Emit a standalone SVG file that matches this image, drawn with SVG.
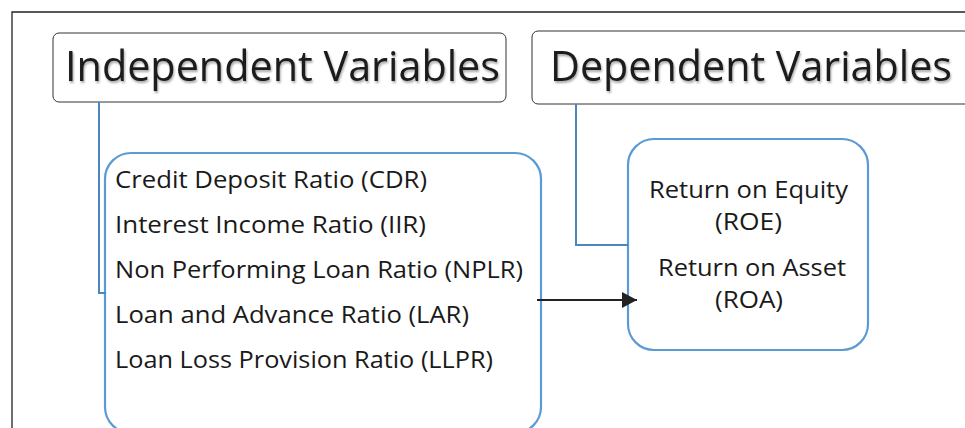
<svg xmlns="http://www.w3.org/2000/svg" width="965" height="428" viewBox="0 0 965 428">
<defs>
<filter id="sh" x="-5%" y="-20%" width="110%" height="150%">
<feDropShadow dx="1" dy="2" stdDeviation="1.2" flood-color="#000" flood-opacity="0.35"/>
</filter>
<marker id="arr" markerWidth="16" markerHeight="16" refX="15" refY="8" orient="auto" markerUnits="userSpaceOnUse">
<path d="M0,0 L15,8 L0,16 Z" fill="#222"/>
</marker>
</defs>
<style>
.hdr{fill:#fff;stroke:#333;stroke-width:1}
.hdrt{font-family:"Open Sans","Noto Sans",sans-serif;font-size:42px;fill:#1a1a1a}
.blue{fill:#fff;stroke:#5B9BD5;stroke-width:2.2}
.conn{fill:none;stroke:#4A86C0;stroke-width:2}
.t{font-family:"Open Sans","Noto Sans",sans-serif;font-size:24px;fill:#1a1a1a}
</style>
<rect width="965" height="428" fill="#fff"/>
<path d="M12,428 L12,12 L965,12" fill="none" stroke="#222" stroke-width="1.3"/>
<g id="independent-header">
<rect class="hdr" x="53" y="33" width="453" height="69" rx="6"/>
<text class="hdrt" x="65" y="81" textLength="435" lengthAdjust="spacingAndGlyphs" filter="url(#sh)">Independent Variables</text>
</g>
<g id="dependent-header">
<rect class="hdr" x="532" y="31" width="440" height="73" rx="6"/>
<text class="hdrt" x="550" y="81" textLength="402" lengthAdjust="spacingAndGlyphs" filter="url(#sh)">Dependent Variables</text>
</g>
<g id="independent-box">
<rect class="blue" x="105" y="153" width="436" height="280" rx="26"/>
<text class="t" x="115" y="188" textLength="312" lengthAdjust="spacingAndGlyphs">Credit Deposit Ratio (CDR)</text>
<text class="t" x="115" y="233" textLength="311" lengthAdjust="spacingAndGlyphs">Interest Income Ratio (IIR)</text>
<text class="t" x="115" y="278" textLength="408" lengthAdjust="spacingAndGlyphs">Non Performing Loan Ratio (NPLR)</text>
<text class="t" x="115" y="323" textLength="354" lengthAdjust="spacingAndGlyphs">Loan and Advance Ratio (LAR)</text>
<text class="t" x="115" y="368" textLength="378" lengthAdjust="spacingAndGlyphs">Loan Loss Provision Ratio (LLPR)</text>
</g>
<g id="dependent-box">
<rect class="blue" x="628" y="139" width="240" height="211" rx="26"/>
<text class="t" x="649" y="198" textLength="199" lengthAdjust="spacingAndGlyphs">Return on Equity</text>
<text class="t" x="715" y="230" textLength="67" lengthAdjust="spacingAndGlyphs">(ROE)</text>
<text class="t" x="658" y="276" textLength="188" lengthAdjust="spacingAndGlyphs">Return on Asset</text>
<text class="t" x="715" y="308" textLength="68" lengthAdjust="spacingAndGlyphs">(ROA)</text>
</g>
<g id="connectors">
<path class="conn" d="M99,102 L99,293 L106,293"/>
<path class="conn" d="M576,104 L576,245 L628,245"/>
<line x1="537" y1="300" x2="637" y2="300" stroke="#222" stroke-width="2.2" marker-end="url(#arr)"/>
</g>
</svg>
